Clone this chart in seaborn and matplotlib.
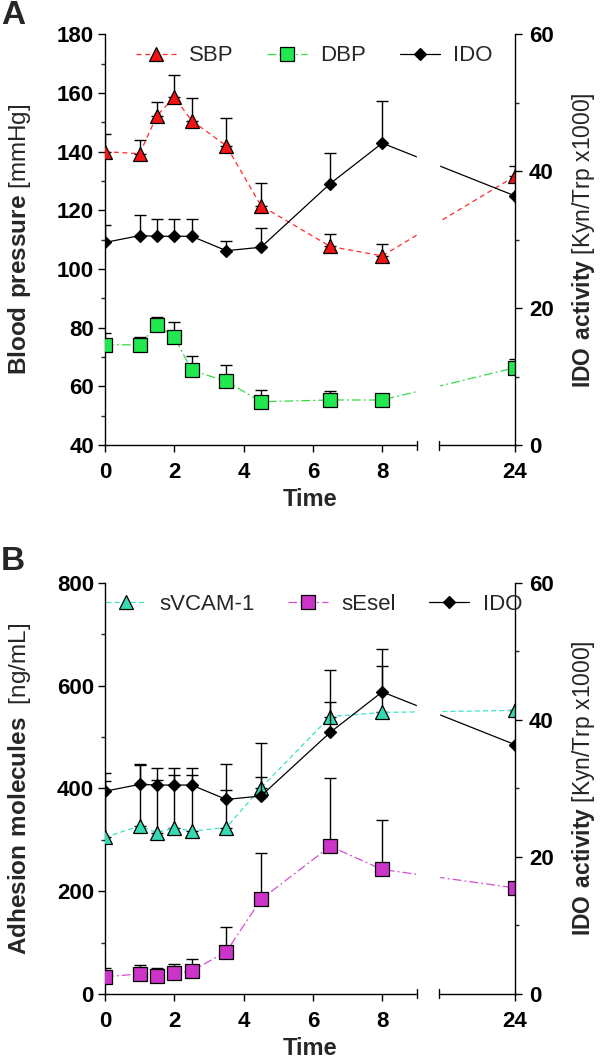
import numpy as np
import seaborn as sns
import matplotlib.pyplot as plt
from matplotlib.ticker import MultipleLocator, NullLocator

sns.set_style("ticks")
plt.rcParams["font.family"] = ["Liberation Sans", "DejaVu Sans"]
plt.rcParams["font.weight"] = "bold"
plt.rcParams["mathtext.fontset"] = "custom"
plt.rcParams["mathtext.rm"] = "Liberation Sans"
plt.rcParams["mathtext.bf"] = "Liberation Sans:bold"

# data (hours after infusion)
time = [0, 1, 1.5, 2, 2.5, 3.5, 4.5, 6.5, 8, 24]

sbp = [140, 139.3, 152.3, 158.5, 150.6, 142, 121.6, 107.7, 104.5, 131.6]
sbp_err = [6, 4.7, 4.5, 7.5, 7.7, 9.5, 7.8, 4.2, 4.2, 3.5]
dbp = [74.2, 74.2, 80.8, 77, 65.5, 61.8, 54.8, 55.4, 55.4, 66.4]
dbp_err = [4.1, 2.6, 2.9, 5.1, 4.8, 5.4, 4.1, 3.0, 2.2, 2.8]

ido = [29.6, 30.6, 30.5, 30.5, 30.5, 28.4, 28.9, 38.2, 44.1, 36.4]
ido_err = [2.6, 3.0, 2.5, 2.5, 2.5, 1.4, 2.8, 4.4, 6.2, 0]

svcam = [305, 327, 314, 324, 317, 324, 401, 540, 548, 552]
svcam_err = [110, 119, 103, 103, 110, 124, 87, 91, 91, 0]
sesel = [33.6, 38.9, 35, 40.2, 44.7, 82.2, 184, 287.5, 242.3, 206.5]
sesel_err = [16, 17, 15, 17.5, 23, 48, 90, 133, 96, 0]

# broken time axis: 0-9 h, then a short gap, then ~21.8-24 h
BRK_LO, BRK_HI, GAP = 9.0, 21.8, 0.63


def fwd(x):
    x = np.asarray(x, dtype=float)
    mid = BRK_LO + (x - BRK_LO) * GAP / (BRK_HI - BRK_LO)
    return np.where(x <= BRK_LO, x, np.where(x >= BRK_HI, BRK_LO + GAP + x - BRK_HI, mid))


def inv(u):
    u = np.asarray(u, dtype=float)
    mid = BRK_LO + (u - BRK_LO) * (BRK_HI - BRK_LO) / GAP
    return np.where(u <= BRK_LO, u, np.where(u >= BRK_LO + GAP, u - BRK_LO - GAP + BRK_HI, mid))


def draw_series(ax, y, err, name, line_col, fill, marker, ms, ls):
    ax.errorbar(time, y, yerr=[np.zeros(len(err)), err], fmt="none", ecolor="black",
                elinewidth=1, capsize=4.5, capthick=1, zorder=1.5)
    sns.lineplot(x=time, y=y, ax=ax, color=line_col, linestyle=ls, lw=0.9,
                 marker=marker, ms=ms, mfc=fill, mec="black", mew=0.9,
                 label=name, errorbar=None, legend=False, zorder=3)
    return ax.lines[-1]


def panel(ax, left, ylim, major, minor, ylabel, letter, letter_y):
    ax.set_xscale("function", functions=(fwd, inv))
    ax2 = ax.twinx()
    handles = [draw_series(ax, *s) for s in left]
    handles.append(draw_series(ax2, ido, ido_err, "IDO", "black", "black", "D", 6.5, "-"))

    # hide the break
    rect = ax2.axvspan(BRK_LO, BRK_HI, ymin=-0.03, ymax=1, color="white", zorder=20)
    rect.set_clip_on(False)
    for xb in (BRK_LO, BRK_HI):
        ax2.plot([xb, xb], [-0.011, 0.011], transform=ax2.get_xaxis_transform(),
                 color="black", lw=1, clip_on=False, zorder=21)

    ax.set_xlim(0, 24)
    ax.set_xticks([0, 2, 4, 6, 8, 24])
    ax.xaxis.set_minor_locator(NullLocator())
    ax.set_ylim(*ylim)
    ax.yaxis.set_major_locator(MultipleLocator(major))
    ax.yaxis.set_minor_locator(MultipleLocator(minor))
    ax2.set_ylim(0, 60)
    ax2.yaxis.set_major_locator(MultipleLocator(20))
    ax2.yaxis.set_minor_locator(MultipleLocator(10))

    for a in (ax, ax2):
        a.tick_params(which="major", direction="out", length=5, width=1, labelsize=16, colors="black")
        a.tick_params(which="minor", direction="out", length=3, width=1)
        for sp in a.spines.values():
            sp.set_linewidth(1)
            sp.set_color("black")
    ax.tick_params(axis="x", pad=7)
    ax.tick_params(axis="y", pad=3)
    ax2.tick_params(axis="y", pad=5)
    ax.spines[["top", "right"]].set_visible(False)
    ax2.spines[["top", "left", "bottom"]].set_visible(False)

    ax.set_xlabel("Time", fontsize=17, fontweight="bold", labelpad=4)
    ax.set_ylabel(ylabel, fontsize=17.5, fontweight="normal")
    ax.yaxis.set_label_coords(-0.175, 0.5)
    ax2.set_ylabel(r"$\mathbf{IDO\ activity}$ [Kyn/Trp x1000]", fontsize=16.5, fontweight="normal")
    ax2.yaxis.set_label_coords(1.133, 0.5)

    leg = ax2.legend(handles=handles, loc="upper center", bbox_to_anchor=(0.51, 1.0), ncol=3,
                     frameon=False, prop={"weight": "normal", "size": 16}, handlelength=1.8,
                     handletextpad=0.6, columnspacing=1.5, borderaxespad=0.1)
    leg.set_zorder(30)
    ax.figure.text(0.002, letter_y, letter, fontsize=24, fontweight="bold", va="top", ha="left")


fig = plt.figure(figsize=(6, 10.6), dpi=100)
ax_a = fig.add_axes([0.175, 0.580, 0.6833, 0.3877])
ax_b = fig.add_axes([0.175, 0.0623, 0.6833, 0.3877])

panel(ax_a,
      [(sbp, sbp_err, "SBP", "#FF2A2A", "#F01414", "^", 10, (0, (4, 3))),
       (dbp, dbp_err, "DBP", "#33DD44", "#22E850", "s", 9.5, (0, (7, 2.5, 1.5, 2.5)))],
      (40, 180), 20, 10, r"$\mathbf{Blood\ pressure}$ [mmHg]", "A", 1.0)

panel(ax_b,
      [(svcam, svcam_err, "sVCAM-1", "#3FE3C8", "#35D9B4", "^", 10, (0, (4, 2.5))),
       (sesel, sesel_err, "sEsel", "#D24FD2", "#CC33C8", "s", 9.5, (0, (7, 2.5, 1.5, 2.5)))],
      (0, 800), 200, 100, r"$\mathbf{Adhesion\ molecules}$  [ng/mL]", "B", 1 - 546 / 1060)

fig.savefig("out.png", dpi=100)
